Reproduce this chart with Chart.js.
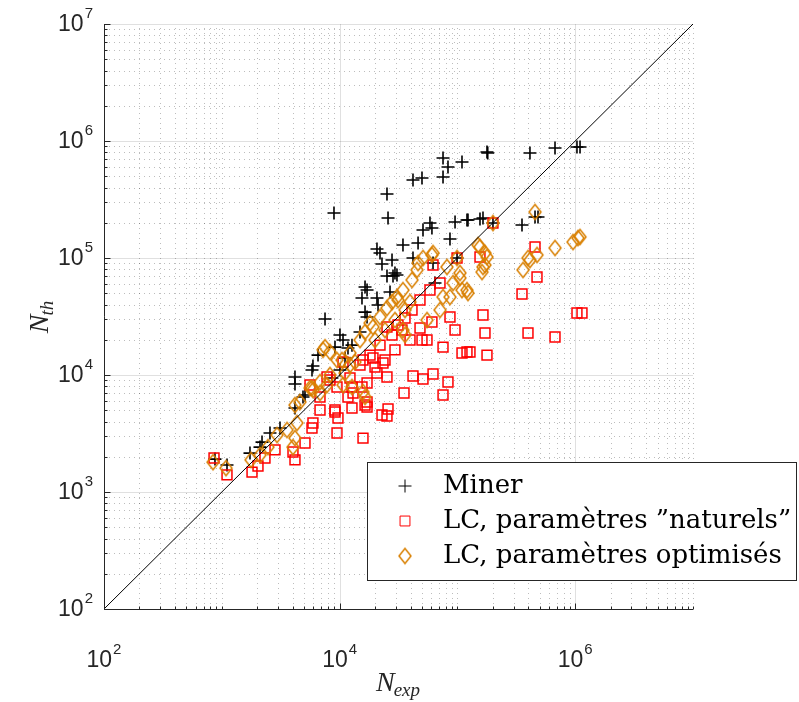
<!DOCTYPE html>
<html>
<head>
<meta charset="utf-8">
<script src="https://cdn.jsdelivr.net/npm/chart.js@4.4.1/dist/chart.umd.min.js"></script>
<style>
  html, body { margin: 0; padding: 0; background: #fff; }
  #wrap { width: 799px; height: 702px; }
</style>
</head>
<body>
<div id="wrap"><canvas id="chart" width="799" height="702"></canvas></div>
<script>
// [N_exp, N_th] pairs
const miner = [
  [875,1910],[1107,1700],[1735,2150],[2110,2420],[2195,2670],[2565,3190],[3120,3520],[4180,5220],
  [5085,6750],[4180,8370],[4180,9610],[4890,6490],[5940,11940],[5830,11040],[8610,9420],[7520,30100],
  [10070,22000],[10690,19900],[9140,17300],[11780,17000],[14900,23300],[16440,34500],[17100,31300],
  [15490,45500],[16440,56500],[17100,53200],[20760,45500],[26790,51200],[21200,39600],[20760,119400],
  [22900,88900],[27860,96100],[25250,70200],[28400,70200],[22030,110400],[30690,71600],[8960,242500],
  [25250,352000],[25770,219600],[34510,129100],[46350,134300],[41980,100000],[29510,74500],[62100,90600],
  [99300,100000],[51050,173500],[60800,180400],[58500,199100],[95500,203200],[120600,211300],[123000,211300],
  [155500,215400],[164900,219600],[200400,199100],[86500,145300],[41980,464000],[50050,483000],[75500,492000],
  [75500,716000],[83200,600000],[109400,662000],[178300,805000],[181000,790000],[413000,789000],[674000,871000],
  [1035000,889000],[1099000,889000],[353500,191400],[456000,224000],[483400,224000],[64560,61100],[6560,14800],
  [11120,13960],[12740,18000],[10070,11040]
];
const naturels = [
  [859,1950],[1107,1400],[1805,1480],[2029,1670],[2326,1950],[2829,2290],[4180,1880],[4020,2200],[5085,2620],
  [5830,3520],[5940,3890],[9505,3190],[9690,4290],[6818,5020],[9140,5020],[12740,5220],[16440,5540],[17100,5880],
  [15800,2890],[6818,6490],[9505,7900],[13000,7020],[15490,7900],[25250,9610],[41980,9800],[51050,9240],
  [62100,10200],[83200,8710],[35220,7020],[75500,6750],[25770,5120],[22900,4550],[25250,4460],[17100,5330],
  [9140,4830],[11780,6490],[20760,10400],[19980,11700],[178300,14800],[99300,100000],[62100,87100],[86500,31300],
  [95500,24240],[60800,28380],[48140,25220],[50050,19900],[55210,19900],[75500,17300],[109400,15420],
  [120600,15730],[127900,15730],[25250,25720],[19210,13960],[23360,12660],[15800,13430],[17100,8540],
  [12740,7900],[7818,9610],[10690,12910],[456000,124200],[155500,102000],[474000,68800],[353500,49240],
  [1035000,33880],[1142000,33880],[164900,32570],[171500,22860],[397500,22860],[674000,21130],[200400,199100],
  [5607,8220],[8289,9060],[12250,9420],[14900,12170],[18120,14800],[22030,18000],[27860,22000],[31310,26760],
  [35920,30700],[41180,35940],[48140,43750],[58500,53200],[71180,61100],[29510,16400],[39600,19900],
  [33860,24240],[24290,13430]
];
const optimises = [
  [842,1800],[1086,1600],[1770,1880],[2110,2070],[2467,2420],[2942,3070],[3578,3390],[4180,5540],[4348,3890],
  [4020,2420],[4180,2890],[5830,7740],[6818,7020],[7818,8220],[10690,8220],[12740,7900],[15800,7160],[16440,6490],
  [60800,106100],[51050,100000],[91760,61100],[109400,53200],[123000,50200],[75500,46400],[71180,35940],
  [55210,29500],[35920,22000],[34510,24240],[7520,17300],[8289,15730],[9505,13430],[14900,19900],[16440,23300],
  [18120,27820],[22030,31300],[25250,37380],[31310,43750],[34510,53200],[41180,64900],[45400,79000],[46350,90600],
  [5940,7440],[4611,5880],[456000,247300],[200400,199100],[155500,124200],[178300,102000],[164900,83800],
  [397500,100000],[474000,106100],[360500,79000],[674000,121800],[958000,137000],[1056000,148200],
  [1099000,151200],[62100,110400],[99300,100000],[81600,83800],[105200,74500],[149600,129100],[171500,110400],
  [171500,87100],[161800,75900],[413000,96100],[105200,67500],[120600,53200],[86500,46400],[7230,16400],
  [19210,25720],[27860,42060],[30690,46400],[12250,15420],[10480,13430],[5607,7740],[12250,12170],[13510,12910],
  [19980,19900],[24290,24240],[29510,29500],[35920,35940],[39600,42060],[8289,10000],[6818,8710],[11120,10400]
];
const diagonal = [[1e2,1e2],[1e7,1e7]];

const axisMin = 1e2, axisMax = 1e7;
const xMajorTicks = [1e2, 1e4, 1e6];
const yMajorTicks = [1e2, 1e3, 1e4, 1e5, 1e6, 1e7];
const legendLabels = ['Miner', 'LC, param\u00e8tres \u201dnaturels\u201d', 'LC, param\u00e8tres optimis\u00e9s'];

const ORANGE = 'rgb(217,128,0)';

function toPoints(list) {
  return list.map(p => ({x: p[0], y: p[1]}));
}

function diamondCanvas(w, h, color) {
  const c = document.createElement('canvas');
  c.width = w + 4;
  c.height = h + 4;
  const g = c.getContext('2d');
  g.strokeStyle = color;
  g.lineWidth = 1.5;
  g.beginPath();
  g.moveTo(c.width / 2, 2);
  g.lineTo(c.width - 2, c.height / 2);
  g.lineTo(c.width / 2, c.height - 2);
  g.lineTo(2, c.height / 2);
  g.closePath();
  g.stroke();
  return c;
}
const diamond = diamondCanvas(12, 15, ORANGE);

// every decade value m*10^e inside the axis range
function logSteps() {
  const out = [];
  for (let e = 2; e < 7; e++) {
    for (let m = 1; m <= 9; m++) out.push(m * Math.pow(10, e));
  }
  out.push(axisMax);
  return out;
}
const isMajor = (v, majors) => majors.some(t => Math.abs(t - v) / t < 1e-9);

const TICK_FONT = '23px "Liberation Sans", Arial, sans-serif';
const SUP_FONT = '15px "Liberation Sans", Arial, sans-serif';

function drawPow(ctx, exp, x, y, align) {
  const base = '10', sup = String(exp);
  ctx.font = TICK_FONT;
  const wb = ctx.measureText(base).width;
  ctx.font = SUP_FONT;
  const ws = ctx.measureText(sup).width;
  const total = wb + ws + 1;
  let left = align === 'right' ? x - total : x - total / 2;
  ctx.textBaseline = 'middle';
  ctx.textAlign = 'left';
  ctx.font = TICK_FONT;
  ctx.fillText(base, left, y);
  ctx.font = SUP_FONT;
  ctx.fillText(sup, left + wb + 1, y - 11);
}

function drawSubscripted(ctx, main, sub, x, y) {
  ctx.font = 'italic 28px "Liberation Serif", serif';
  const wm = ctx.measureText(main).width;
  ctx.font = 'italic 19px "Liberation Serif", serif';
  const ws = ctx.measureText(sub).width;
  const left = x - (wm + ws) / 2;
  ctx.textAlign = 'left';
  ctx.textBaseline = 'alphabetic';
  ctx.font = 'italic 28px "Liberation Serif", serif';
  ctx.fillText(main, left, y);
  ctx.font = 'italic 19px "Liberation Serif", serif';
  ctx.fillText(sub, left + wm - 1, y + 5);
}

const axesPlugin = {
  id: 'matlabAxes',
  beforeDraw(chart) {
    const ctx = chart.ctx;
    ctx.save();
    ctx.fillStyle = '#fff';
    ctx.fillRect(0, 0, chart.width, chart.height);
    ctx.restore();
  },
  beforeDatasetsDraw(chart) {
    const {ctx, chartArea: a, scales: {x, y}} = chart;
    const steps = logSteps();
    ctx.save();
    ctx.lineWidth = 1;
    // minor grid, dotted
    ctx.strokeStyle = 'rgba(0,0,0,0.26)';
    ctx.setLineDash([1, 4]);
    steps.forEach(v => {
      if (!isMajor(v, xMajorTicks)) {
        const px = Math.round(x.getPixelForValue(v)) + 0.5;
        ctx.beginPath(); ctx.moveTo(px, a.bottom); ctx.lineTo(px, a.top); ctx.stroke();
      }
      if (!isMajor(v, yMajorTicks)) {
        const py = Math.round(y.getPixelForValue(v)) + 0.5;
        ctx.beginPath(); ctx.moveTo(a.left, py); ctx.lineTo(a.right, py); ctx.stroke();
      }
    });
    // major grid, solid
    ctx.setLineDash([]);
    ctx.strokeStyle = 'rgba(0,0,0,0.12)';
    xMajorTicks.forEach(v => {
      const px = Math.round(x.getPixelForValue(v)) + 0.5;
      ctx.beginPath(); ctx.moveTo(px, a.bottom); ctx.lineTo(px, a.top); ctx.stroke();
    });
    yMajorTicks.forEach(v => {
      const py = Math.round(y.getPixelForValue(v)) + 0.5;
      ctx.beginPath(); ctx.moveTo(a.left, py); ctx.lineTo(a.right, py); ctx.stroke();
    });
    ctx.restore();
  },
  afterDatasetsDraw(chart) {
    const {ctx, chartArea: a, scales: {x, y}} = chart;
    const steps = logSteps();
    const left = Math.round(a.left) + 0.5, bottom = Math.round(a.bottom) + 0.5;
    ctx.save();
    ctx.strokeStyle = '#262626';
    ctx.lineWidth = 1;
    ctx.beginPath();
    ctx.moveTo(left, a.top); ctx.lineTo(left, bottom); ctx.lineTo(a.right, bottom);
    ctx.stroke();
    // tick marks pointing inwards
    steps.concat([axisMin]).forEach(v => {
      const px = Math.round(x.getPixelForValue(v)) + 0.5;
      const lx = isMajor(v, xMajorTicks) ? 6 : 3;
      ctx.beginPath(); ctx.moveTo(px, bottom); ctx.lineTo(px, bottom - lx); ctx.stroke();
      const py = Math.round(y.getPixelForValue(v)) + 0.5;
      const ly = isMajor(v, yMajorTicks) ? 6 : 3;
      ctx.beginPath(); ctx.moveTo(left, py); ctx.lineTo(left + ly, py); ctx.stroke();
    });
    // tick labels
    ctx.fillStyle = '#262626';
    yMajorTicks.forEach(v => {
      drawPow(ctx, Math.round(Math.log10(v)), a.left - 11, y.getPixelForValue(v) + 1, 'right');
    });
    xMajorTicks.forEach(v => {
      drawPow(ctx, Math.round(Math.log10(v)), x.getPixelForValue(v), a.bottom + 52, 'center');
    });
    // axis titles
    ctx.fillStyle = '#262626';
    drawSubscripted(ctx, 'N', 'exp', (a.left + a.right) / 2, a.bottom + 82);
    ctx.save();
    ctx.translate(48, (a.top + a.bottom) / 2);
    ctx.rotate(-Math.PI / 2);
    drawSubscripted(ctx, 'N', 'th', 0, 0);
    ctx.restore();
    ctx.restore();
  },
  afterDraw(chart) {
    const ctx = chart.ctx;
    const box = {left: 367, top: 462, right: 797, bottom: 581};
    ctx.save();
    ctx.fillStyle = '#fff';
    ctx.fillRect(box.left, box.top, box.right - box.left, box.bottom - box.top);
    ctx.strokeStyle = '#262626';
    ctx.lineWidth = 1;
    ctx.strokeRect(box.left + 0.5, box.top + 0.5, box.right - box.left - 1, box.bottom - box.top - 1);
    const rows = [486, 521, 556];
    const sets = chart.data.datasets.filter(d => d.legendIndex !== undefined)
      .sort((p, q) => p.legendIndex - q.legendIndex);
    sets.forEach((d, i) => {
      ctx.strokeStyle = d.borderColor;
      ctx.fillStyle = 'rgba(0,0,0,0)';
      Chart.helpers.drawPoint(ctx, {
        pointStyle: d.pointStyle, radius: d.pointRadius, rotation: 0, borderWidth: d.borderWidth
      }, 405, rows[i]);
      ctx.fillStyle = '#000';
      ctx.font = '26px "DejaVu Serif", serif';
      ctx.textAlign = 'left';
      ctx.textBaseline = 'middle';
      ctx.fillText(legendLabels[i], 443, rows[i]);
    });
    ctx.restore();
  }
};

new Chart(document.getElementById('chart').getContext('2d'), {
  type: 'scatter',
  data: {
    datasets: [
      {
        label: 'diagonal',
        type: 'line',
        data: toPoints(diagonal),
        borderColor: '#000',
        borderWidth: 1,
        pointRadius: 0,
        showLine: true,
        order: 0
      },
      {
        label: legendLabels[2],
        legendIndex: 2,
        data: toPoints(optimises),
        pointStyle: diamond,
        pointRadius: 7,
        borderColor: ORANGE,
        backgroundColor: 'rgba(0,0,0,0)',
        borderWidth: 1.5,
        order: 1
      },
      {
        label: legendLabels[1],
        legendIndex: 1,
        data: toPoints(naturels),
        pointStyle: 'rect',
        pointRadius: 7,
        borderColor: 'rgb(255,0,0)',
        backgroundColor: 'rgba(0,0,0,0)',
        borderWidth: 1.5,
        order: 2
      },
      {
        label: legendLabels[0],
        legendIndex: 0,
        data: toPoints(miner),
        pointStyle: 'cross',
        pointRadius: 6.5,
        borderColor: '#000',
        backgroundColor: '#000',
        borderWidth: 1.6,
        order: 3
      }
    ]
  },
  options: {
    responsive: false,
    animation: false,
    layout: { padding: { left: 104, top: 24, right: 106, bottom: 93 } },
    plugins: {
      legend: { display: false },
      tooltip: { enabled: false }
    },
    scales: {
      x: { type: 'logarithmic', min: axisMin, max: axisMax, display: false },
      y: { type: 'logarithmic', min: axisMin, max: axisMax, display: false }
    }
  },
  plugins: [axesPlugin]
});
</script>
</body>
</html>
